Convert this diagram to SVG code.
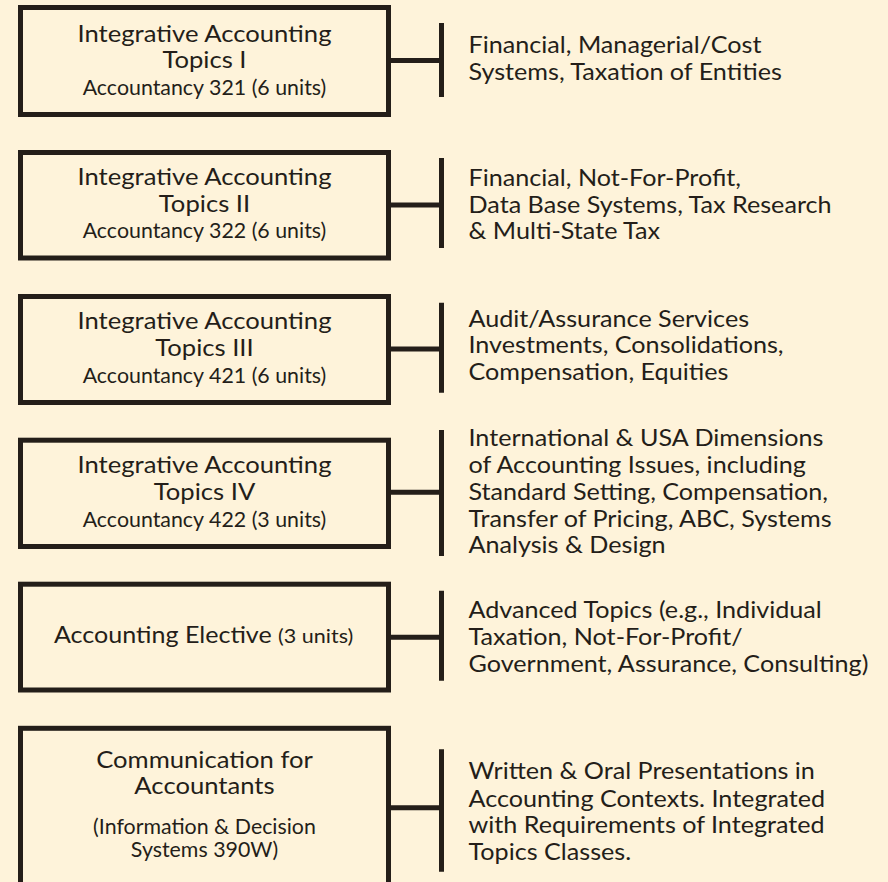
<svg xmlns="http://www.w3.org/2000/svg" width="888" height="882" viewBox="0 0 888 882">
<style>
.box{fill:none;stroke:#241e19;stroke-width:5}
.ln{stroke:#241e19;stroke-width:5;fill:none}
text{font-family:Lato,"Open Sans",sans-serif;fill:#241e19}
.t{font-size:23.3px}
.s{font-size:21px}
.x{font-size:20px}
.c{text-anchor:middle}
</style>
<rect x="0" y="0" width="888" height="882" fill="#fef3da"/>
<g id="connectors">
<path class="ln" d="M391 60.5H441.5M441.5 23V97"/>
<path class="ln" d="M391 205H441.5M441.5 158V248"/>
<path class="ln" d="M391 349H441.5M441.5 302.7V392.7"/>
<path class="ln" d="M391 492.3H441.5M441.5 430V556"/>
<path class="ln" d="M391 637.3H441.5M441.5 590.7V680.7"/>
<path class="ln" d="M391 807.7H441.5M441.5 749.3V871.7"/>
</g>
<g id="topics1">
<rect class="box" x="20.5" y="7.5" width="368" height="107"/>
<g transform="translate(204.5 0) scale(1.1 1)">
<text class="t c" x="0" y="42">Integrative Accounting</text>
<text class="t c" x="0" y="68">Topics I</text>
</g>
<g transform="translate(204.5 0) scale(1.018 1)">
<text class="s c" x="0" y="95">Accountancy 321 (6 units)</text>
</g>
</g>
<g id="topics2">
<rect class="box" x="20.5" y="152.5" width="368" height="105.5"/>
<g transform="translate(204.5 0) scale(1.1 1)">
<text class="t c" x="0" y="185">Integrative Accounting</text>
<text class="t c" x="0" y="211.7">Topics II</text>
</g>
<g transform="translate(204.5 0) scale(1.018 1)">
<text class="s c" x="0" y="238">Accountancy 322 (6 units)</text>
</g>
</g>
<g id="topics3">
<rect class="box" x="20.5" y="296.5" width="368" height="106"/>
<g transform="translate(204.5 0) scale(1.1 1)">
<text class="t c" x="0" y="329.3">Integrative Accounting</text>
<text class="t c" x="0" y="356">Topics III</text>
</g>
<g transform="translate(204.5 0) scale(1.018 1)">
<text class="s c" x="0" y="382.7">Accountancy 421 (6 units)</text>
</g>
</g>
<g id="topics4">
<rect class="box" x="20.5" y="440.2" width="368" height="106.3"/>
<g transform="translate(204.5 0) scale(1.1 1)">
<text class="t c" x="0" y="473.3">Integrative Accounting</text>
<text class="t c" x="0" y="500">Topics IV</text>
</g>
<g transform="translate(204.5 0) scale(1.018 1)">
<text class="s c" x="0" y="526.7">Accountancy 422 (3 units)</text>
</g>
</g>
<g id="elective">
<rect class="box" x="20.5" y="584.2" width="368" height="105.8"/>
<g transform="translate(54 0) scale(1.076 1)">
<text class="t" x="0" y="643.3">Accounting Elective <tspan class="x">(3 units)</tspan></text>
</g>
</g>
<g id="communication">
<rect class="box" x="20.5" y="728.3" width="368" height="170"/>
<g transform="translate(204.5 0) scale(1.1 1)">
<text class="t c" x="0" y="768.5">Communication for</text>
<text class="t c" x="0" y="794">Accountants</text>
</g>
<g transform="translate(204.5 0) scale(1.018 1)">
<text class="s c" x="0" y="834">(Information &amp; Decision</text>
<text class="s c" x="0" y="857.3">Systems 390W)</text>
</g>
</g>
<g id="desc1" transform="translate(468.5 0) scale(1.08 1)">
<text class="t" x="0" y="53.3">Financial, Managerial/Cost</text>
<text class="t" x="0" y="80">Systems, Taxation of Entities</text>
</g>
<g id="desc2" transform="translate(468.5 0) scale(1.08 1)">
<text class="t" x="0" y="186">Financial, Not-For-Profit,</text>
<text class="t" x="0" y="213.3">Data Base Systems, Tax Research</text>
<text class="t" x="0" y="239.3">&amp; Multi-State Tax</text>
</g>
<g id="desc3" transform="translate(468.5 0) scale(1.08 1)">
<text class="t" x="0" y="326.7">Audit/Assurance Services</text>
<text class="t" x="0" y="353.3">Investments, Consolidations,</text>
<text class="t" x="0" y="380">Compensation, Equities</text>
</g>
<g id="desc4" transform="translate(468.5 0) scale(1.08 1)">
<text class="t" x="0" y="446">International &amp; USA Dimensions</text>
<text class="t" x="0" y="472.7">of Accounting Issues, including</text>
<text class="t" x="0" y="500">Standard Setting, Compensation,</text>
<text class="t" x="0" y="526.7">Transfer of Pricing, ABC, Systems</text>
<text class="t" x="0" y="553.3">Analysis &amp; Design</text>
</g>
<g id="desc5" transform="translate(468.5 0) scale(1.08 1)">
<text class="t" x="0" y="618.3">Advanced Topics (e.g., Individual</text>
<text class="t" x="0" y="645">Taxation, Not-For-Profit/</text>
<text class="t" x="0" y="671.7">Government, Assurance, Consulting)</text>
</g>
<g id="desc6" transform="translate(468.5 0) scale(1.08 1)">
<text class="t" x="0" y="779.3">Written &amp; Oral Presentations in</text>
<text class="t" x="0" y="806.7">Accounting Contexts. Integrated</text>
<text class="t" x="0" y="833.3">with Requirements of Integrated</text>
<text class="t" x="0" y="860">Topics Classes.</text>
</g>
</svg>
